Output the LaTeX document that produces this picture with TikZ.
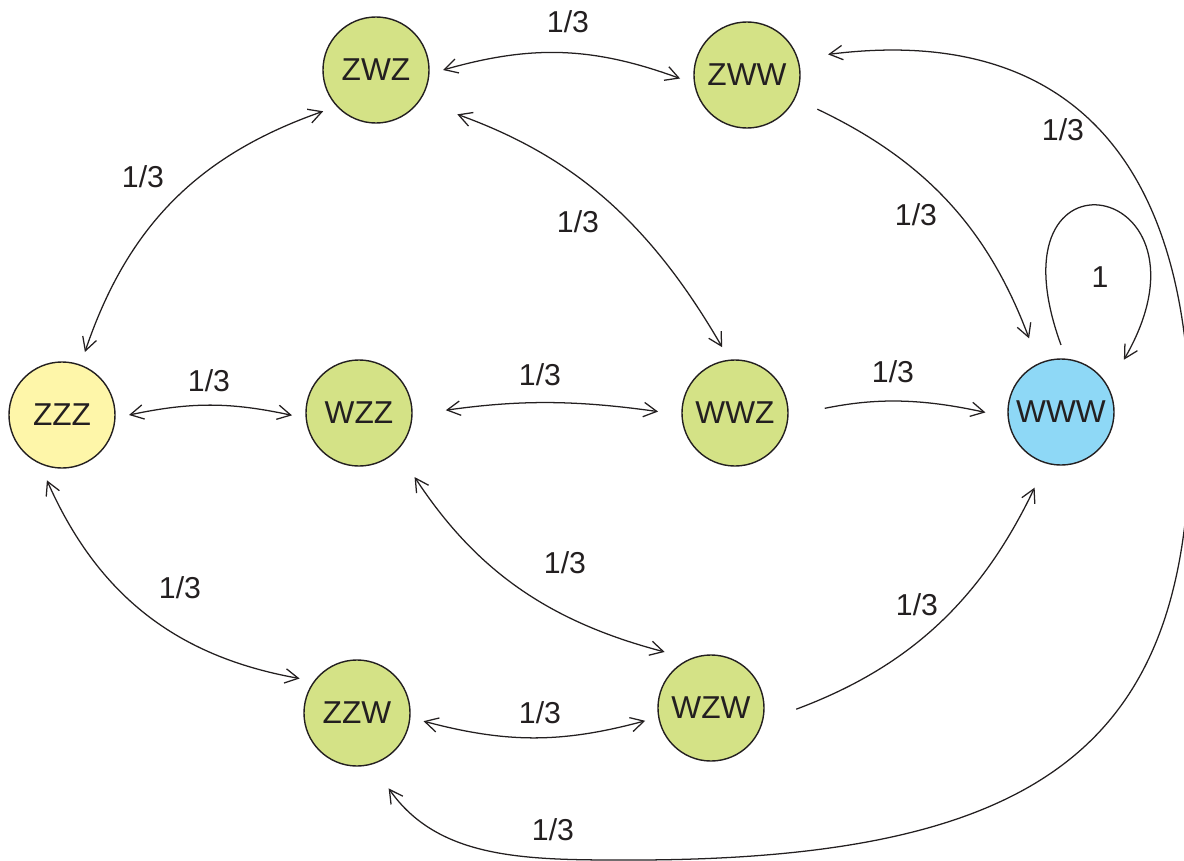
\documentclass[tikz,border=0pt]{standalone}
\usepackage{fontspec}
\setmainfont{Liberation Sans}
\usetikzlibrary{arrows.meta}
\definecolor{stategreen}{RGB}{212,226,134}
\definecolor{startyellow}{RGB}{254,246,169}
\definecolor{absorbblue}{RGB}{142,216,246}
\definecolor{ink}{RGB}{35,31,32}
\begin{document}
\begin{tikzpicture}[x=0.025cm,y=0.025cm,
    >={Straight Barb[length=3.3mm,width=3.6mm]},
    state/.style={circle,draw=ink,line width=1pt,fill=stategreen,minimum size=2.65cm,
      inner sep=0pt,outer sep=0.35cm,text=ink,font=\fontsize{22.5}{26}\selectfont},
    lbl/.style={text=ink,inner sep=0pt,font=\fontsize{21.5}{24}\selectfont},
    tr/.style={draw=ink,line width=0.9pt}]
  \useasboundingbox (0,0) rectangle (1184,-861);
  % states
  \node[state] (zwz) at (376,-70) {ZWZ};
  \node[state] (zww) at (747,-75) {ZWW};
  \node[state,fill=startyellow] (zzz) at (62,-415) {ZZZ};
  \node[state] (wzz) at (359,-413) {WZZ};
  \node[state] (wwz) at (735,-413) {WWZ};
  \node[state,fill=absorbblue] (www) at (1061,-412) {WWW};
  \node[state] (zzw) at (357,-713) {ZZW};
  \node[state] (wzw) at (711,-708) {WZW};
  \coordinate (low) at (620,-860);
  \coordinate (rim) at (1190,-430);
  % transitions
  \begin{scope}[tr]
    \draw[<->] (zwz.0) to[bend left=18] (zww.183);
    \draw[<->] (zwz.218) to[bend right=26] (zzz.70);
    \draw[<->,shorten <=0.65cm] (zwz.-32) to[bend left=20] (wwz.101);
    \draw[->,shorten <=0.28cm,shorten >=0.33cm] (zww.-26) to[bend left=22] (www.114);
    \draw[->,shorten >=0.4cm] (www.90) to[out=110,in=60,distance=5.6cm] (www.35);
    \draw[<->] (zzz.0) to[bend left=12] (wzz.182);
    \draw[<->,shorten <=0.5cm,shorten >=0.25cm] (wzz.0) to[bend left=8] (wwz.180);
    \draw[->,shorten <=0.58cm,shorten >=0.22cm] (wwz.0) to[bend left=12] (www.182);
    \draw[<->] (zzz.257) to[bend right=28] (zzw.149);
    \draw[<->,shorten <=0.45cm,shorten >=0.18cm] (wzz.-47) to[bend right=21] (wzw.126);
    \draw[<->] (zzw.-7) to[bend right=15] (wzw.191);
    \draw[->,shorten <=0.5cm,shorten >=0.33cm] (wzw.-7) to[bend right=22] (www.252);
    \draw[<->,shorten <=0.38cm,shorten >=0.42cm] (zzw.-70) to[out=-55,in=180] (low)
      .. controls (1050,-862) and (1190,-740) .. (rim)
      .. controls (1190,-150) and (1060,-25) .. (zww.16);
  \end{scope}
  % probabilities
  \node[lbl] (p1) at (568,-22) {1/3};
  \node[lbl] (p2) at (143,-177) {1/3};
  \node[lbl] (p3) at (578,-222) {1/3};
  \node[lbl] (p4) at (916,-215) {1/3};
  \node[lbl] (p5) at (1063,-130) {1/3};
  \node[lbl] (p6) at (1100,-277) {1};
  \node[lbl] (p7) at (209,-381) {1/3};
  \node[lbl] (p8) at (540,-375) {1/3};
  \node[lbl] (p9) at (893,-372) {1/3};
  \node[lbl] (p10) at (180,-588) {1/3};
  \node[lbl] (p11) at (565,-563) {1/3};
  \node[lbl] (p12) at (540,-713) {1/3};
  \node[lbl] (p13) at (917,-605) {1/3};
  \node[lbl] (p14) at (553,-830) {1/3};
\end{tikzpicture}
\end{document}
